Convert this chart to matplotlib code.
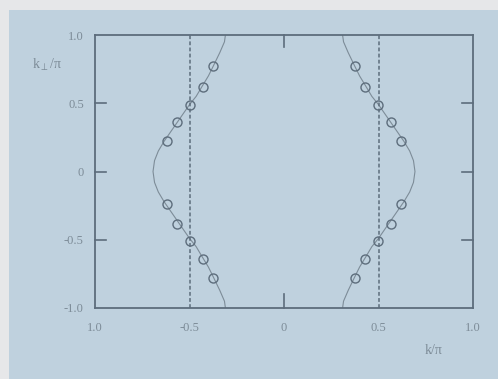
import numpy as np
import matplotlib.pyplot as plt

# Fermi-surface curve (right branch)
curve_ky = [-1.0, -0.95, -0.87, -0.77, -0.7, -0.62, -0.55, -0.49, -0.42,
            -0.36, -0.29, -0.22, -0.15, -0.08, 0.0,
            0.08, 0.15, 0.22, 0.29, 0.36, 0.42, 0.49, 0.55, 0.62, 0.7,
            0.77, 0.87, 0.95, 1.0]
curve_kx = [0.31, 0.315, 0.34, 0.375, 0.40, 0.435, 0.465, 0.50, 0.535,
            0.565, 0.60, 0.635, 0.665, 0.685, 0.693,
            0.685, 0.665, 0.635, 0.60, 0.565, 0.535, 0.50, 0.465, 0.435, 0.40,
            0.375, 0.34, 0.315, 0.31]

# open circles (right branch)
pts_ky = [0.77, 0.62, 0.49, 0.36, 0.22, -0.24, -0.385, -0.51, -0.64, -0.78]
pts_kx = [0.375, 0.43, 0.495, 0.565, 0.62, 0.62, 0.565, 0.495, 0.43, 0.375]

xticks = [-1.0, -0.5, 0.0, 0.5, 1.0]
xticklabels = ["1.0", "-0.5", "0", "0.5", "1.0"]
yticks = [-1.0, -0.5, 0.0, 0.5, 1.0]
yticklabels = ["-1.0", "-0.5", "0", "0.5", "1.0"]

panel = "#bfd1de"
dark = "#5d6d7c"
light = "#7d8c98"

plt.rcParams["font.family"] = ["Liberation Serif", "DejaVu Serif"]

fig = plt.figure(figsize=(4.98, 3.79), dpi=100)
fig.patch.set_facecolor("#e6e7e9")
fig.patches.append(plt.Rectangle((9 / 498, 0), 1, 1 - 10 / 379,
                                 transform=fig.transFigure,
                                 facecolor=panel, edgecolor="none", zorder=-5))

ax = fig.add_axes([95 / 498, 1 - 308 / 379, 378 / 498, 273 / 379])
ax.set_facecolor(panel)

cx = np.array(curve_kx)
cy = np.array(curve_ky)
for s in (1, -1):
    ax.plot(s * cx, cy, color=light, lw=0.8)
    ax.plot(s * np.array(pts_kx), pts_ky, "o", ms=6.5, mfc="none",
            mec=dark, mew=1.0)
    ax.axvline(s * 0.5, color=dark, lw=1.1, ls=(0, (2.5, 1.5)))

ax.set_xlim(-1, 1)
ax.set_ylim(-1, 1)

for sp in ax.spines.values():
    sp.set_color(dark)
    sp.set_linewidth(1.3)

ax.set_xticks(xticks)
ax.set_xticklabels(xticklabels)
ax.set_yticks(yticks)
ax.set_yticklabels(yticklabels)
ax.tick_params(axis="both", direction="in", length=0, colors=light,
               labelsize=9, pad=8)
ax.tick_params(axis="x", pad=10)

# short inward ticks only at the interior positions
for y in (-0.5, 0.0, 0.5):
    ax.plot([-1, -0.94], [y, y], color=dark, lw=1.2, clip_on=False)
    ax.plot([0.94, 1], [y, y], color=dark, lw=1.2, clip_on=False)
ax.plot([0, 0], [-1, -0.9], color=dark, lw=1.2, clip_on=False)
ax.plot([0, 0], [0.91, 1], color=dark, lw=1.2, clip_on=False)

fig.text(47 / 498, 1 - 65 / 379, "k$_{\\perp}$/\u03c0", color=light,
         fontsize=10, ha="center", va="center")
fig.text(434 / 498, 1 - 350 / 379, "k/\u03c0", color=light,
         fontsize=10, ha="center", va="center")

fig.savefig("out.png", dpi=100, facecolor=fig.get_facecolor())
